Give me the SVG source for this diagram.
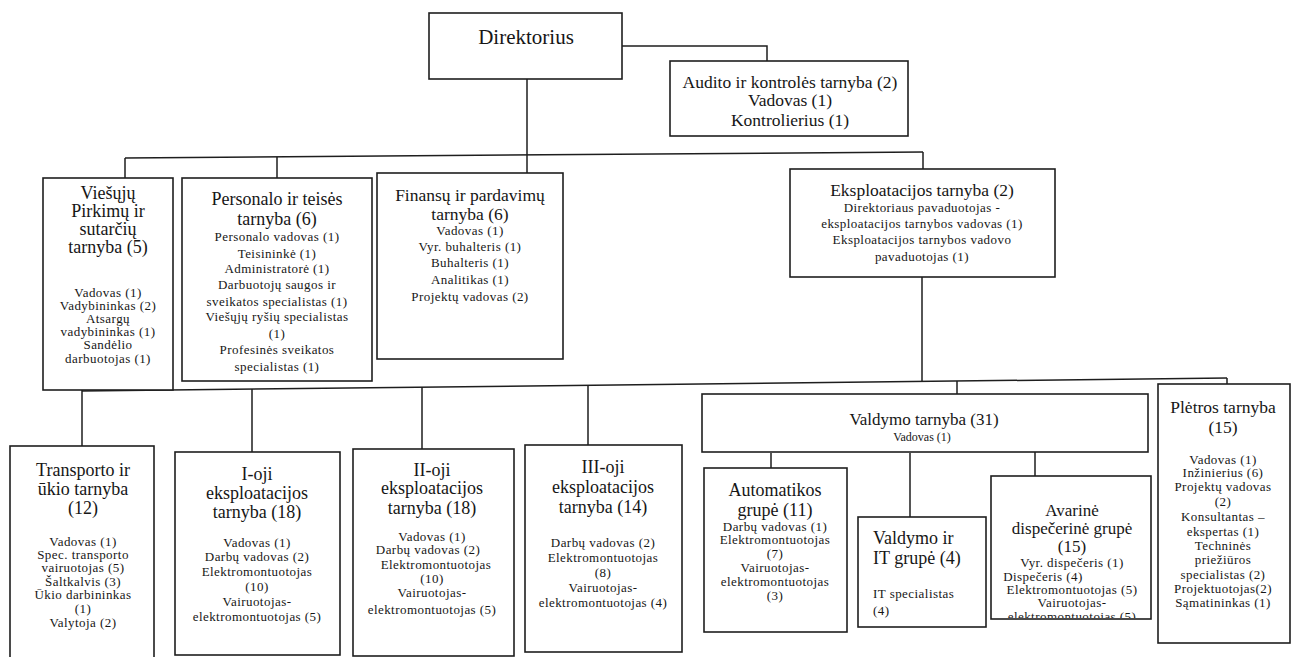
<svg xmlns="http://www.w3.org/2000/svg" width="1296" height="657" viewBox="0 0 1296 657">
<style>
.box{fill:#fff;stroke:#1e1e1e;stroke-width:1.6}
.ln{fill:none;stroke:#1e1e1e;stroke-width:1.5}
text{font-family:"Liberation Serif","Times New Roman",serif;fill:#161616;text-anchor:middle}
.h{font-size:18px}
.h17{font-size:17.5px}
.b{font-size:13px;letter-spacing:0.45px}
.l{text-anchor:start}
</style>
<defs>
<clipPath id="clipAv"><rect x="991" y="476" width="160" height="142"/></clipPath>
</defs>
<rect width="1296" height="657" fill="#fff"/>

<g id="connectors">
<polyline class="ln" points="622,46 767,46 767,61"/>
<line class="ln" x1="527" y1="79" x2="527" y2="173"/>
<line class="ln" x1="125" y1="158" x2="923" y2="152"/>
<line class="ln" x1="125" y1="158" x2="125" y2="178"/>
<line class="ln" x1="277" y1="157" x2="277" y2="178"/>
<line class="ln" x1="923" y1="152" x2="923" y2="169"/>
<line class="ln" x1="922" y1="277" x2="922" y2="381"/>
<line class="ln" x1="82" y1="391" x2="1227" y2="378"/>
<line class="ln" x1="82" y1="390" x2="82" y2="446"/>
<line class="ln" x1="252" y1="389" x2="252" y2="452"/>
<line class="ln" x1="422" y1="387" x2="422" y2="449"/>
<line class="ln" x1="588" y1="385" x2="588" y2="445"/>
<line class="ln" x1="957" y1="381" x2="957" y2="395"/>
<line class="ln" x1="1227" y1="378" x2="1227" y2="384"/>
<line class="ln" x1="771" y1="453" x2="771" y2="468"/>
<line class="ln" x1="910" y1="453" x2="910" y2="517"/>
<line class="ln" x1="1035" y1="452" x2="1035" y2="476"/>
</g>

<g id="direktorius">
<rect class="box" x="429" y="13" width="193" height="66"/>
<text x="526" y="44" style="font-size:21px">Direktorius</text>
</g>

<g id="auditas">
<rect class="box" x="670" y="61" width="238" height="75"/>
<text style="font-size:17.5px"><tspan x="790" y="88">Audito ir kontrolės tarnyba (2)</tspan><tspan x="790" y="106">Vadovas (1)</tspan><tspan x="790" y="126">Kontrolierius (1)</tspan></text>
</g>

<g id="viesieji">
<rect class="box" x="43" y="178" width="130" height="212"/>
<text class="h"><tspan x="108" y="199">Viešųjų</tspan><tspan x="108" y="217">Pirkimų ir</tspan><tspan x="108" y="235">sutarčių</tspan><tspan x="108" y="253">tarnyba (5)</tspan></text>
<text class="b"><tspan x="108" y="297">Vadovas (1)</tspan><tspan x="108" y="310">Vadybininkas (2)</tspan><tspan x="108" y="323">Atsargų</tspan><tspan x="108" y="336">vadybininkas (1)</tspan><tspan x="108" y="349">Sandėlio</tspan><tspan x="108" y="363">darbuotojas (1)</tspan></text>
</g>

<g id="personalas">
<rect class="box" x="182" y="178" width="190" height="203"/>
<text class="h"><tspan x="277" y="205">Personalo ir teisės</tspan><tspan x="277" y="225">tarnyba (6)</tspan></text>
<text class="b"><tspan x="277" y="241">Personalo vadovas (1)</tspan><tspan x="277" y="258">Teisininkė (1)</tspan><tspan x="277" y="273">Administratorė (1)</tspan><tspan x="277" y="289">Darbuotojų saugos ir</tspan><tspan x="277" y="306">sveikatos specialistas  (1)</tspan><tspan x="277" y="321">Viešųjų ryšių specialistas</tspan><tspan x="277" y="338">(1)</tspan><tspan x="277" y="354">Profesinės sveikatos</tspan><tspan x="277" y="371">specialistas (1)</tspan></text>
</g>

<g id="finansai">
<rect class="box" x="377" y="173" width="186" height="186"/>
<text class="h17"><tspan x="470" y="201">Finansų ir pardavimų</tspan><tspan x="470" y="220">tarnyba (6)</tspan></text>
<text class="b"><tspan x="470" y="235">Vadovas (1)</tspan><tspan x="470" y="251">Vyr. buhalteris (1)</tspan><tspan x="470" y="267">Buhalteris (1)</tspan><tspan x="470" y="284">Analitikas (1)</tspan><tspan x="470" y="301">Projektų vadovas (2)</tspan></text>
</g>

<g id="eksploatacija">
<rect class="box" x="790" y="169" width="265" height="108"/>
<text class="h17"><tspan x="922" y="196">Eksploatacijos tarnyba (2)</tspan></text>
<text class="b"><tspan x="922" y="212">Direktoriaus pavaduotojas -</tspan><tspan x="922" y="228">eksploatacijos tarnybos vadovas (1)</tspan><tspan x="922" y="244">Eksploatacijos tarnybos vadovo</tspan><tspan x="922" y="261">pavaduotojas (1)</tspan></text>
</g>

<g id="transportas">
<rect class="box" x="10" y="446" width="144" height="215"/>
<text class="h"><tspan x="83" y="476">Transporto  ir</tspan><tspan x="83" y="495">ūkio tarnyba</tspan><tspan x="83" y="514">(12)</tspan></text>
<text class="b"><tspan x="83" y="546">Vadovas (1)</tspan><tspan x="83" y="559">Spec. transporto</tspan><tspan x="83" y="572">vairuotojas (5)</tspan><tspan x="83" y="586">Šaltkalvis (3)</tspan><tspan x="83" y="599">Ūkio darbininkas</tspan><tspan x="83" y="613">(1)</tspan><tspan x="83" y="627">Valytoja (2)</tspan></text>
</g>

<g id="eksp1">
<rect class="box" x="175" y="452" width="165" height="203"/>
<text class="h"><tspan x="257" y="480">I-oji</tspan><tspan x="257" y="499">eksploatacijos</tspan><tspan x="257" y="518">tarnyba (18)</tspan></text>
<text class="b"><tspan x="257" y="547">Vadovas (1)</tspan><tspan x="257" y="561">Darbų vadovas (2)</tspan><tspan x="257" y="576">Elektromontuotojas</tspan><tspan x="257" y="591">(10)</tspan><tspan x="257" y="606">Vairuotojas-</tspan><tspan x="257" y="621">elektromontuotojas (5)</tspan></text>
</g>

<g id="eksp2">
<rect class="box" x="353" y="449" width="161" height="207"/>
<text class="h"><tspan x="432" y="476">II-oji</tspan><tspan x="432" y="494">eksploatacijos</tspan><tspan x="432" y="514">tarnyba (18)</tspan></text>
<text class="b"><tspan x="432" y="541">Vadovas (1)</tspan><tspan x="428" y="554">Darbų vadovas (2)</tspan><tspan x="436" y="569">Elektromontuotojas</tspan><tspan x="432" y="583">(10)</tspan><tspan x="432" y="597">Vairuotojas-</tspan><tspan x="432" y="614">elektromontuotojas (5)</tspan></text>
</g>

<g id="eksp3">
<rect class="box" x="525" y="445" width="157" height="207"/>
<text class="h"><tspan x="603" y="473">III-oji</tspan><tspan x="603" y="493">eksploatacijos</tspan><tspan x="603" y="513">tarnyba (14)</tspan></text>
<text class="b"><tspan x="603" y="547">Darbų vadovas (2)</tspan><tspan x="603" y="562">Elektromontuotojas</tspan><tspan x="603" y="577">(8)</tspan><tspan x="603" y="592">Vairuotojas-</tspan><tspan x="603" y="607">elektromontuotojas (4)</tspan></text>
</g>

<g id="valdymas">
<rect class="box" x="702" y="394" width="446" height="58"/>
<text><tspan x="924" y="425" style="font-size:17px">Valdymo tarnyba (31)</tspan><tspan x="922" y="441" style="font-size:12px">Vadovas (1)</tspan></text>
</g>

<g id="automatika">
<rect class="box" x="704" y="468" width="143" height="164"/>
<text class="h"><tspan x="775" y="496">Automatikos</tspan><tspan x="775" y="516">grupė (11)</tspan></text>
<text class="b"><tspan x="775" y="531">Darbų vadovas (1)</tspan><tspan x="775" y="544">Elektromontuotojas</tspan><tspan x="775" y="558">(7)</tspan><tspan x="775" y="572">Vairuotojas-</tspan><tspan x="775" y="586">elektromontuotojas</tspan><tspan x="775" y="600">(3)</tspan></text>
</g>

<g id="valdymas-it">
<rect class="box" x="858" y="517" width="128" height="110"/>
<text class="h l"><tspan x="873" y="544">Valdymo ir</tspan><tspan x="873" y="564">IT grupė (4)</tspan></text>
<text class="b l"><tspan x="873" y="598">IT specialistas</tspan><tspan x="873" y="615">(4)</tspan></text>
</g>

<g id="avarine">
<rect class="box" x="991" y="476" width="160" height="143"/>
<text style="font-size:17px"><tspan x="1072" y="516">Avarinė</tspan><tspan x="1072" y="534">dispečerinė grupė</tspan><tspan x="1072" y="552">(15)</tspan></text>
<text class="b" clip-path="url(#clipAv)"><tspan x="1072" y="567">Vyr. dispečeris (1)</tspan><tspan x="1043" y="581">Dispečeris (4)</tspan><tspan x="1072" y="594">Elektromontuotojas (5)</tspan><tspan x="1072" y="607">Vairuotojas-</tspan><tspan x="1072" y="621">elektromontuotojas (5)</tspan></text>
</g>

<g id="pletra">
<rect class="box" x="1158" y="384" width="132" height="259"/>
<text class="h17"><tspan x="1223" y="413">Plėtros tarnyba</tspan><tspan x="1223" y="433">(15)</tspan></text>
<text class="b"><tspan x="1223" y="464">Vadovas (1)</tspan><tspan x="1223" y="477">Inžinierius (6)</tspan><tspan x="1223" y="491">Projektų vadovas</tspan><tspan x="1223" y="506">(2)</tspan><tspan x="1223" y="521">Konsultantas –</tspan><tspan x="1223" y="536">ekspertas (1)</tspan><tspan x="1223" y="550">Techninės</tspan><tspan x="1223" y="564">priežiūros</tspan><tspan x="1223" y="579">specialistas (2)</tspan><tspan x="1223" y="593">Projektuotojas(2)</tspan><tspan x="1223" y="607">Sąmatininkas (1)</tspan></text>
</g>
</svg>
